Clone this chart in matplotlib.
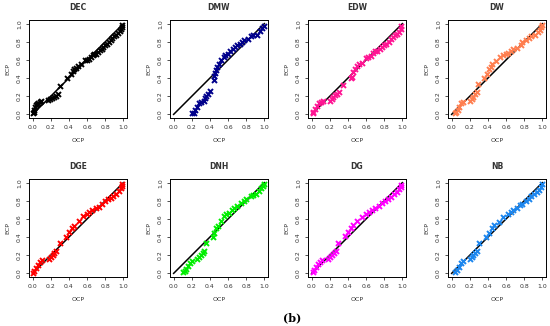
import matplotlib.pyplot as plt

# panel names and colours
names = ['DEC', 'DMW', 'EDW', 'DW', 'DGE', 'DNH', 'DG', 'NB']
colors = ['black', '#00008B', '#FF1493', '#FF7F50', '#FF0000', '#00EE00', '#FF00FF', '#1C86EE']

# OCP / ECP values
dec_x = [0.00, 0.01, 0.02, 0.03, 0.04, 0.05, 0.06, 0.08, 0.09, 0.17, 0.19, 0.21, 0.23, 0.26, 0.28, 0.30,
         0.38, 0.42, 0.44, 0.46, 0.48, 0.50, 0.53, 0.58, 0.60, 0.62, 0.64, 0.66, 0.68, 0.70, 0.72, 0.74,
         0.76, 0.78, 0.80, 0.82, 0.84, 0.86, 0.88, 0.90, 0.92, 0.94, 0.96, 0.97, 0.98, 0.99]
dec_y = [0.01, 0.03, 0.05, 0.08, 0.10, 0.11, 0.13, 0.14, 0.15, 0.16, 0.17, 0.18, 0.19, 0.20, 0.22, 0.31,
         0.40, 0.45, 0.48, 0.50, 0.51, 0.53, 0.55, 0.60, 0.60, 0.61, 0.63, 0.65, 0.66, 0.67, 0.69, 0.71,
         0.72, 0.74, 0.76, 0.78, 0.80, 0.82, 0.84, 0.86, 0.88, 0.90, 0.92, 0.94, 0.96, 0.98]

dmw_x = [0.20, 0.22, 0.24, 0.26, 0.28, 0.30, 0.33, 0.35, 0.36, 0.38, 0.40, 0.44, 0.45, 0.46, 0.47, 0.48,
         0.50, 0.52, 0.55, 0.57, 0.60, 0.62, 0.65, 0.68, 0.70, 0.73, 0.75, 0.78, 0.82, 0.85, 0.88, 0.92,
         0.95, 0.97, 1.00]
dmw_y = [0.01, 0.02, 0.05, 0.08, 0.12, 0.14, 0.15, 0.18, 0.20, 0.22, 0.26, 0.38, 0.42, 0.46, 0.49, 0.52,
         0.55, 0.60, 0.63, 0.65, 0.67, 0.70, 0.72, 0.74, 0.76, 0.78, 0.80, 0.82, 0.83, 0.86, 0.87, 0.88,
         0.92, 0.95, 0.97]

edw_x = [0.01, 0.02, 0.04, 0.06, 0.08, 0.10, 0.12, 0.20, 0.22, 0.24, 0.26, 0.28, 0.30, 0.35, 0.43, 0.45,
         0.46, 0.48, 0.50, 0.52, 0.56, 0.60, 0.62, 0.65, 0.68, 0.70, 0.72, 0.75, 0.78, 0.80, 0.82, 0.85,
         0.88, 0.90, 0.92, 0.94, 0.96, 0.98, 0.99]
edw_y = [0.01, 0.03, 0.06, 0.09, 0.12, 0.14, 0.15, 0.15, 0.17, 0.19, 0.21, 0.23, 0.25, 0.32, 0.40, 0.41,
         0.47, 0.50, 0.53, 0.55, 0.57, 0.62, 0.63, 0.64, 0.68, 0.70, 0.70, 0.72, 0.74, 0.76, 0.78, 0.80,
         0.83, 0.85, 0.87, 0.89, 0.91, 0.94, 0.97]

dw_x = [0.04, 0.05, 0.07, 0.08, 0.10, 0.12, 0.20, 0.22, 0.24, 0.26, 0.28, 0.29, 0.36, 0.39, 0.41, 0.43,
        0.45, 0.49, 0.53, 0.57, 0.60, 0.62, 0.65, 0.68, 0.72, 0.76, 0.78, 0.82, 0.85, 0.88, 0.92, 0.95,
        0.97, 0.98, 1.00]
dw_y = [0.01, 0.03, 0.05, 0.08, 0.12, 0.14, 0.15, 0.17, 0.19, 0.22, 0.25, 0.33, 0.40, 0.45, 0.50, 0.52,
        0.55, 0.59, 0.63, 0.65, 0.67, 0.68, 0.70, 0.72, 0.73, 0.77, 0.80, 0.82, 0.84, 0.86, 0.88, 0.91,
        0.93, 0.96, 0.98]

dge_x = [0.00, 0.02, 0.04, 0.06, 0.08, 0.10, 0.18, 0.20, 0.22, 0.24, 0.26, 0.30, 0.37, 0.40, 0.43, 0.46,
         0.51, 0.55, 0.60, 0.62, 0.65, 0.70, 0.73, 0.76, 0.80, 0.83, 0.86, 0.89, 0.92, 0.95, 0.97, 0.98,
         0.99]
dge_y = [0.00, 0.03, 0.06, 0.09, 0.12, 0.15, 0.16, 0.18, 0.20, 0.22, 0.25, 0.33, 0.40, 0.46, 0.50, 0.52,
         0.58, 0.63, 0.65, 0.68, 0.70, 0.72, 0.73, 0.76, 0.80, 0.82, 0.83, 0.85, 0.88, 0.91, 0.94, 0.96,
         0.98]

dnh_x = [0.10, 0.12, 0.14, 0.16, 0.18, 0.20, 0.26, 0.28, 0.30, 0.32, 0.34, 0.36, 0.43, 0.45, 0.47, 0.49,
         0.52, 0.56, 0.58, 0.61, 0.64, 0.67, 0.70, 0.74, 0.77, 0.80, 0.85, 0.88, 0.91, 0.94, 0.96, 0.98,
         1.00]
dnh_y = [0.01, 0.03, 0.05, 0.08, 0.11, 0.14, 0.16, 0.18, 0.20, 0.22, 0.25, 0.33, 0.40, 0.45, 0.50, 0.52,
         0.58, 0.63, 0.65, 0.67, 0.70, 0.72, 0.74, 0.78, 0.80, 0.82, 0.85, 0.86, 0.88, 0.91, 0.94, 0.96,
         0.98]

dg_x = [0.01, 0.03, 0.05, 0.07, 0.09, 0.11, 0.18, 0.20, 0.22, 0.25, 0.27, 0.29, 0.37, 0.40, 0.43, 0.46,
        0.50, 0.55, 0.60, 0.63, 0.66, 0.70, 0.74, 0.78, 0.81, 0.84, 0.88, 0.91, 0.94, 0.96, 0.98, 0.99]
dg_y = [0.01, 0.04, 0.07, 0.10, 0.13, 0.15, 0.16, 0.18, 0.20, 0.23, 0.25, 0.33, 0.41, 0.46, 0.50, 0.53,
        0.58, 0.62, 0.65, 0.68, 0.70, 0.72, 0.74, 0.78, 0.80, 0.82, 0.84, 0.87, 0.90, 0.93, 0.95, 0.97]

nb_x = [0.04, 0.06, 0.08, 0.10, 0.12, 0.20, 0.22, 0.24, 0.26, 0.28, 0.30, 0.38, 0.41, 0.44, 0.47, 0.52,
        0.57, 0.62, 0.65, 0.68, 0.72, 0.75, 0.78, 0.82, 0.85, 0.88, 0.91, 0.94, 0.96, 0.98, 1.00]
nb_y = [0.01, 0.04, 0.07, 0.11, 0.14, 0.16, 0.18, 0.20, 0.22, 0.25, 0.33, 0.40, 0.45, 0.50, 0.53, 0.57,
        0.62, 0.65, 0.68, 0.70, 0.72, 0.75, 0.77, 0.80, 0.82, 0.85, 0.87, 0.90, 0.92, 0.95, 0.98]

xs = [dec_x, dmw_x, edw_x, dw_x, dge_x, dnh_x, dg_x, nb_x]
ys = [dec_y, dmw_y, edw_y, dw_y, dge_y, dnh_y, dg_y, nb_y]
ticks = [0.0, 0.2, 0.4, 0.6, 0.8, 1.0]
tick_labels = ['0.0', '0.2', '0.4', '0.6', '0.8', '1.0']

fig = plt.figure(figsize=(5.5, 3.26), dpi=100)
lefts = [29, 170, 308, 448]
tops = [20, 179]
txt = '#333333'

for i in range(8):
    r, c = divmod(i, 4)
    ax = fig.add_axes([lefts[c] / 550, 1 - (tops[r] + 98) / 326, 98 / 550, 98 / 326])
    ax.plot([0, 1], [0, 1], color='black', lw=1.1, zorder=1)
    ax.plot(xs[i], ys[i], 'x', color=colors[i], ms=3.6, mew=1.4, zorder=2)
    ax.set_xlim(-0.04, 1.04)
    ax.set_ylim(-0.04, 1.04)
    ax.set_xticks(ticks)
    ax.set_xticklabels(tick_labels)
    ax.set_yticks(ticks)
    ax.set_yticklabels(tick_labels, rotation=90, va='center')
    ax.tick_params(labelsize=4.4, length=2.5, width=0.6, pad=2.5, colors=txt)
    for s in ax.spines.values():
        s.set_linewidth(0.7)
    ax.set_title(names[i], fontsize=5.5, fontweight='bold', color=txt, pad=7)
    ax.set_xlabel('OCP', fontsize=4.5, color=txt, labelpad=6)
    ax.set_ylabel('ECP', fontsize=4.5, color=txt, labelpad=5)

fig.text(292 / 550, 1 - 318 / 326, '(b)', ha='center', va='center', fontsize=8,
         family='DejaVu Serif', fontweight='bold')

fig.savefig('out.png', dpi=100)
